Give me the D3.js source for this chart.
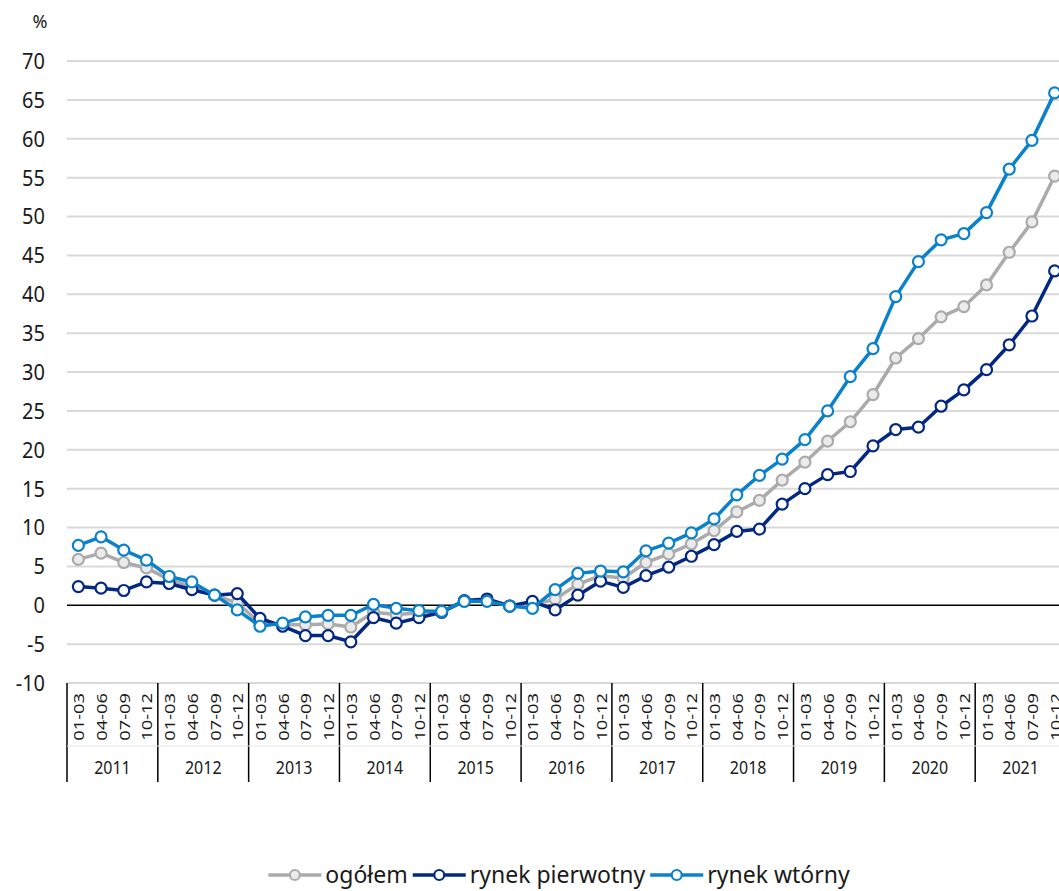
<!DOCTYPE html>
<html>
<head>
<meta charset="utf-8">
<script src="https://cdn.jsdelivr.net/npm/d3@7"></script>
<style>
  body { margin: 0; background: #fff; }
  svg { display: block; font-family: "Noto Sans", sans-serif; }
</style>
</head>
<body>
<svg id="chart" width="1059" height="891"></svg>
<script>
const years = ["2011", "2012", "2013", "2014", "2015", "2016", "2017", "2018", "2019", "2020", "2021"];
const quarters = ["01-03", "04-06", "07-09", "10-12"];
const yTicks = [-10, -5, 0, 5, 10, 15, 20, 25, 30, 35, 40, 45, 50, 55, 60, 65, 70];

const ogolem = [
  5.9, 6.7, 5.5, 4.8,
  3.3, 2.4, 1.3, 0.3,
  -2.3, -2.5, -2.5, -2.4,
  -2.8, -0.9, -1.2, -1.0,
  -0.9, 0.5, 0.6, -0.1,
  0.0, 0.8, 2.7, 3.8,
  3.5, 5.5, 6.6, 7.9,
  9.6, 12.0, 13.5, 16.1,
  18.4, 21.1, 23.6, 27.1,
  31.8, 34.3, 37.1, 38.4,
  41.2, 45.4, 49.3, 55.2
];
const pierwotny = [
  2.4, 2.2, 1.9, 3.0,
  2.8, 2.0, 1.3, 1.5,
  -1.7, -2.7, -3.9, -3.9,
  -4.7, -1.6, -2.3, -1.6,
  -0.9, 0.6, 0.8, -0.1,
  0.5, -0.6, 1.3, 3.1,
  2.3, 3.8, 4.9, 6.3,
  7.8, 9.5, 9.8, 13.0,
  15.0, 16.8, 17.2, 20.5,
  22.6, 22.9, 25.6, 27.7,
  30.3, 33.5, 37.2, 43.0
];
const wtorny = [
  7.7, 8.8, 7.1, 5.8,
  3.7, 3.0, 1.3, -0.6,
  -2.7, -2.3, -1.5, -1.3,
  -1.3, 0.1, -0.4, -0.7,
  -0.8, 0.5, 0.5, -0.1,
  -0.4, 2.0, 4.1, 4.4,
  4.3, 7.0, 8.0, 9.3,
  11.1, 14.2, 16.7, 18.8,
  21.3, 25.0, 29.4, 33.0,
  39.7, 44.2, 47.0, 47.8,
  50.5, 56.1, 59.8, 65.9
];

const series = [
  { name: "ogółem", values: ogolem, color: "#ababab", fill: "#ebebeb" },
  { name: "rynek pierwotny", values: pierwotny, color: "#032883", fill: "#ffffff" },
  { name: "rynek wtórny", values: wtorny, color: "#0a81cb", fill: "#ffffff" }
];

const categories = [];
years.forEach(y => quarters.forEach(q => categories.push(y + " " + q)));

const svg = d3.select("#chart");
const plotLeft = 67, plotRight = 1066, plotTop = 61, plotBottom = 683;

const x = d3.scaleBand().domain(categories).range([plotLeft, plotRight]).padding(0);
const y = d3.scaleLinear().domain([-10, 70]).range([plotBottom, plotTop]);
const cx = (i) => x(categories[i]) + x.bandwidth() / 2;

// gridlines
svg.append("g")
  .selectAll("line")
  .data(yTicks.filter(t => t !== 0))
  .join("line")
  .attr("x1", plotLeft).attr("x2", plotRight)
  .attr("y1", d => y(d)).attr("y2", d => y(d))
  .attr("stroke", "#d9d9d9")
  .attr("stroke-width", 2);

// y labels (slightly tall glyphs, like the source)
svg.append("g")
  .selectAll("text")
  .data(yTicks)
  .join("text")
  .attr("transform", d => "translate(45," + y(d) + ") scale(1,1.1)")
  .attr("dy", "0.36em")
  .attr("text-anchor", "end")
  .attr("font-size", 20)
  .attr("fill", "#1a1a1a")
  .text(d => d);

svg.append("text")
  .attr("x", 40).attr("y", 28)
  .attr("text-anchor", "middle")
  .attr("font-size", 18)
  .attr("fill", "#1a1a1a")
  .text("%");

// zero line
svg.append("line")
  .attr("x1", plotLeft).attr("x2", plotRight)
  .attr("y1", y(0)).attr("y2", y(0))
  .attr("stroke", "#000")
  .attr("stroke-width", 1.5);

// x axis: year separators
const yearWidth = x.bandwidth() * 4;
svg.append("g")
  .selectAll("line")
  .data(d3.range(years.length + 1))
  .join("line")
  .attr("x1", i => plotLeft + i * yearWidth).attr("x2", i => plotLeft + i * yearWidth)
  .attr("y1", plotBottom).attr("y2", 782)
  .attr("stroke", "#000")
  .attr("stroke-width", 1.5);

svg.append("line")
  .attr("x1", plotLeft).attr("x2", plotRight)
  .attr("y1", 746).attr("y2", 746)
  .attr("stroke", "#e6e6e6")
  .attr("stroke-width", 1);

// quarter labels
svg.append("g")
  .selectAll("text")
  .data(categories)
  .join("text")
  .attr("transform", (d, i) => "translate(" + (cx(i) + 6) + ",693) rotate(-90) scale(1.22,1)")
  .attr("text-anchor", "end")
  .attr("font-size", 15)
  .attr("fill", "#1a1a1a")
  .text(d => d.split(" ")[1]);

// year labels
svg.append("g")
  .selectAll("text")
  .data(years)
  .join("text")
  .attr("transform", (d, i) => "translate(" + (plotLeft + (i + 0.5) * yearWidth) + ",768) scale(1,1.12)")
  .attr("dy", "0.36em")
  .attr("text-anchor", "middle")
  .attr("font-size", 16)
  .attr("fill", "#1a1a1a")
  .text(d => d);

// lines and markers
const line = d3.line().x((d, i) => cx(i)).y(d => y(d));

series.forEach(s => {
  const g = svg.append("g");
  g.append("path")
    .datum(s.values)
    .attr("d", line)
    .attr("fill", "none")
    .attr("stroke", s.color)
    .attr("stroke-width", 3.5)
    .attr("stroke-linejoin", "round");
  g.selectAll("circle")
    .data(s.values)
    .join("circle")
    .attr("cx", (d, i) => cx(i))
    .attr("cy", d => y(d))
    .attr("r", 5.5)
    .attr("fill", s.fill)
    .attr("stroke", s.color)
    .attr("stroke-width", 2.2);
});

// legend
const legend = svg.append("g");
let lx = 0;
series.forEach(s => {
  const item = legend.append("g").attr("transform", "translate(" + lx + ",0)");
  item.append("line")
    .attr("x1", 0).attr("x2", 53)
    .attr("y1", 0).attr("y2", 0)
    .attr("stroke", s.color)
    .attr("stroke-width", 3.5);
  item.append("circle")
    .attr("cx", 26.5).attr("cy", 0).attr("r", 5)
    .attr("fill", s.fill)
    .attr("stroke", s.color)
    .attr("stroke-width", 2.2);
  const t = item.append("text")
    .attr("x", 57).attr("y", 0)
    .attr("dy", "0.35em")
    .attr("font-size", 23)
    .attr("fill", "#1a1a1a")
    .text(s.name);
  lx += 57 + t.node().getComputedTextLength() + 5;
});
const lw = lx - 5;
legend.attr("transform", "translate(" + (559 - lw / 2) + ",875)");
</script>
</body>
</html>
